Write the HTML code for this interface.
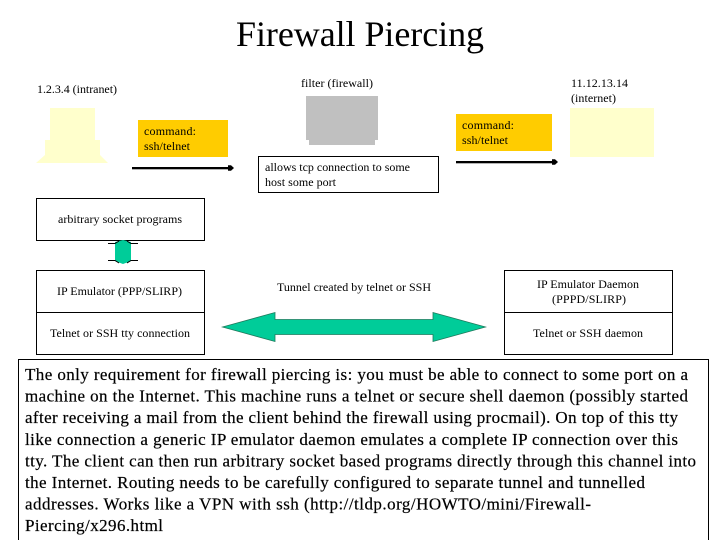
<!DOCTYPE html>
<html>
<head>
<meta charset="utf-8">
<style>
html,body{margin:0;padding:0;background:#fff;width:720px;height:540px;overflow:hidden}
svg{display:block}
text{font-family:"Liberation Serif",serif;fill:#000}
.s{font-size:12px}
.b{font-size:17px;stroke:#000;stroke-width:0.2px}
</style>
</head>
<body>
<svg width="720" height="540" viewBox="0 0 720 540" xmlns="http://www.w3.org/2000/svg">
<rect width="720" height="540" fill="#fff"/>
<text x="236" y="46" font-size="36" textLength="248" lengthAdjust="spacing">Firewall Piercing</text>

<text class="s" x="37" y="93" textLength="80">1.2.3.4 (intranet)</text>
<text class="s" x="301" y="87" textLength="72">filter (firewall)</text>
<text class="s" x="571" y="87" textLength="57">11.12.13.14</text>
<text class="s" x="571" y="102" textLength="45">(internet)</text>

<g fill="#ffffcc">
<rect x="50" y="108" width="45" height="33"/>
<rect x="45" y="140" width="55" height="19"/>
<polygon points="45,155 100,155 108,163 36,163"/>
<rect x="570" y="108" width="84" height="49"/>
</g>
<g fill="#c0c0c0">
<rect x="306" y="96" width="72" height="44"/>
<rect x="309" y="138" width="66" height="7"/>
</g>

<rect x="138" y="120" width="90" height="37" fill="#ffcc00"/>
<text class="s" x="144" y="135" textLength="52">command:</text>
<text class="s" x="144" y="150" textLength="46">ssh/telnet</text>
<rect x="456" y="114" width="96" height="37" fill="#ffcc00"/>
<text class="s" x="462" y="129" textLength="52">command:</text>
<text class="s" x="462" y="144" textLength="46">ssh/telnet</text>

<rect x="132" y="167" width="97" height="2.300" fill="#000"/>
<polygon points="228,165.300 231,165.300 234,168 231,170.700 228,170.700" fill="#000"/>
<rect x="456" y="161" width="97" height="2.300" fill="#000"/>
<polygon points="552,159.300 555,159.300 558,162 555,164.700 552,164.700" fill="#000"/>

<rect x="258.500" y="156.500" width="180" height="36" fill="#fff" stroke="#000"/>
<text class="s" x="265" y="171" textLength="145">allows tcp connection to some</text>
<text class="s" x="265" y="186" textLength="71">host some port</text>

<rect x="36.500" y="198.500" width="168" height="42" fill="#fff" stroke="#000"/>
<text class="s" x="58" y="223" textLength="124">arbitrary socket programs</text>

<polygon points="123,240 131,242 131,261 123,264 115,261 115,242" fill="#00cc99"/>
<path d="M108 243.500H115L119 241M138 243.500H131L127 241M108 260.500H115L119 263M138 260.500H131L127 263" fill="none" stroke="#000" stroke-width="1"/>

<rect x="36.500" y="270.500" width="168" height="84" fill="#fff" stroke="#000"/>
<line x1="36" y1="312.500" x2="204" y2="312.500" stroke="#000"/>
<text class="s" x="57" y="295" textLength="125">IP Emulator (PPP/SLIRP)</text>
<text class="s" x="50" y="337" textLength="140">Telnet or SSH tty connection</text>

<rect x="504.500" y="270.500" width="168" height="84" fill="#fff" stroke="#000"/>
<line x1="504" y1="312.500" x2="672" y2="312.500" stroke="#000"/>
<text class="s" x="537" y="288" textLength="102">IP Emulator Daemon</text>
<text class="s" x="552" y="303" textLength="74">(PPPD/SLIRP)</text>
<text class="s" x="533" y="337" textLength="110">Telnet or SSH daemon</text>

<text class="s" x="277" y="291" textLength="154">Tunnel created by telnet or SSH</text>
<polygon points="222.500,327 275,312.500 275,319.500 433,319.500 433,312.500 485.500,327 433,341.500 433,334.500 275,334.500 275,341.500" fill="#00cc99" stroke="#1f7a5c" stroke-width="0.800"/>

<rect x="18.500" y="359.500" width="690" height="182" fill="#fff" stroke="#000"/>
<text class="b" x="25" y="380" textLength="663">The only requirement for firewall piercing is: you must be able to connect to some port on a</text>
<text class="b" x="25" y="401.600" textLength="663">machine on the Internet. This machine runs a telnet or secure shell daemon (possibly started</text>
<text class="b" x="25" y="423.200" textLength="653">after receiving a mail from the client behind the firewall using procmail). On top of this tty</text>
<text class="b" x="25" y="444.800" textLength="653">like connection a generic IP emulator daemon emulates a complete IP connection over this</text>
<text class="b" x="25" y="466.400" textLength="671">tty. The client can then run arbitrary socket based programs directly through this channel into</text>
<text class="b" x="25" y="488" textLength="620">the Internet. Routing needs to be carefully configured to separate tunnel and tunnelled</text>
<text class="b" x="25" y="509.600" textLength="566">addresses. Works like a VPN with ssh (http://tldp.org/HOWTO/mini/Firewall-</text>
<text class="b" x="25" y="531" textLength="138">Piercing/x296.html</text>
</svg>
</body>
</html>
